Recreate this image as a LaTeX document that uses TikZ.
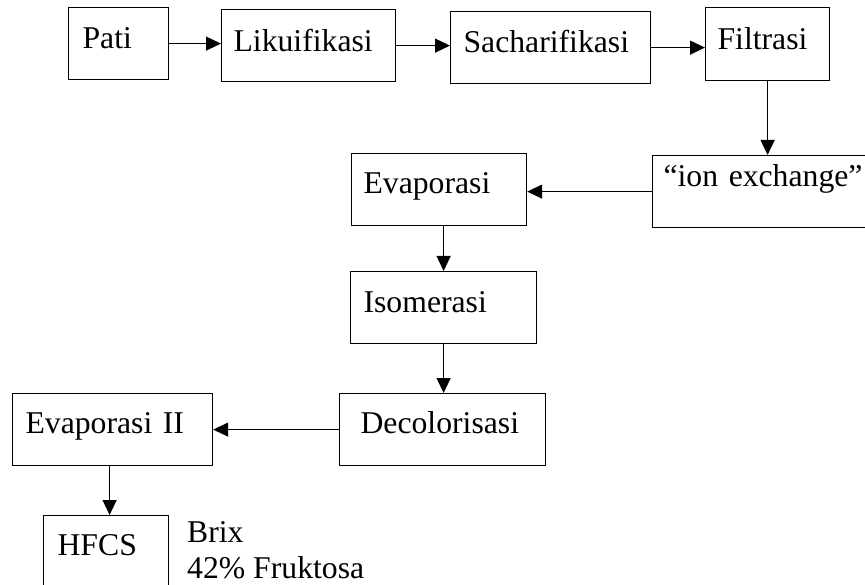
\documentclass[tikz,border=0pt]{standalone}
\usepackage{fontspec}
\setmainfont{Liberation Serif}
\usetikzlibrary{arrows.meta}
\tikzset{
  pbox/.style n args={4}{draw, line width=1.2pt, anchor=north west, inner ysep=0pt,
    inner xsep=#2, text width=#1, text height=#3, text depth=#4, align=left,
    font=\fontsize{31.7}{36}\selectfont},
  arr/.style={line width=1.2pt, -{Triangle[length=15pt,width=14pt]}},
  txt/.style={anchor=north west, inner sep=0pt, align=left, font=\fontsize{31.7}{36}\selectfont}
}
\begin{document}
\begin{tikzpicture}[x=1pt,y=-1pt]
\useasboundingbox (0,0) rectangle (865,585);
\node[pbox={72pt}{14pt}{41pt}{31pt}] (pati) at (68,7) {Pati};
\node[pbox={150pt}{12pt}{42pt}{30pt}] (lik) at (221,9) {Likuifikasi};
\node[pbox={174pt}{13pt}{41pt}{31pt}] (sach) at (450,11) {Sacharifikasi};
\node[pbox={100pt}{12pt}{42pt}{31pt}] (filt) at (705,7) {Filtrasi};
\node[pbox={208pt}{11pt}{31pt}{41pt}] (ion) at (652,155) {“ion exchange”};
\node[pbox={151pt}{12pt}{40pt}{32pt}] (evap) at (351,153) {Evaporasi};
\node[pbox={160pt}{13pt}{41pt}{31pt}] (isom) at (350,271) {Isomerasi};
\node[pbox={164pt}{21pt}{40pt}{32pt}] (decol) at (339,393) {Decolorisasi};
\node[pbox={174pt}{13pt}{40pt}{32pt}] (evap2) at (12,393) {Evaporasi II};
\node[pbox={97pt}{14pt}{40pt}{40pt}] (hfcs) at (43,515) {HFCS};
\node[txt] (brix) at (187,521) {Brix\\42\% Fruktosa};
\draw[arr] (pati.east) -- (pati.east -| lik.west);
\draw[arr] (lik.east) -- (lik.east -| sach.west);
\draw[arr] (sach.east) -- (sach.east -| filt.west);
\draw[arr] (filt.south) -- (filt.south |- ion.north);
\draw[arr] (ion.west) -- (ion.west -| evap.east);
\draw[arr] ([xshift=4.5pt]evap.south) -- ([xshift=4.5pt]evap.south |- isom.north);
\draw[arr] (isom.south) -- (isom.south |- decol.north);
\draw[arr] (decol.west) -- (decol.west -| evap2.east);
\draw[arr] ([xshift=-3pt]evap2.south) -- ([xshift=-3pt]evap2.south |- hfcs.north);
\end{tikzpicture}
\end{document}
